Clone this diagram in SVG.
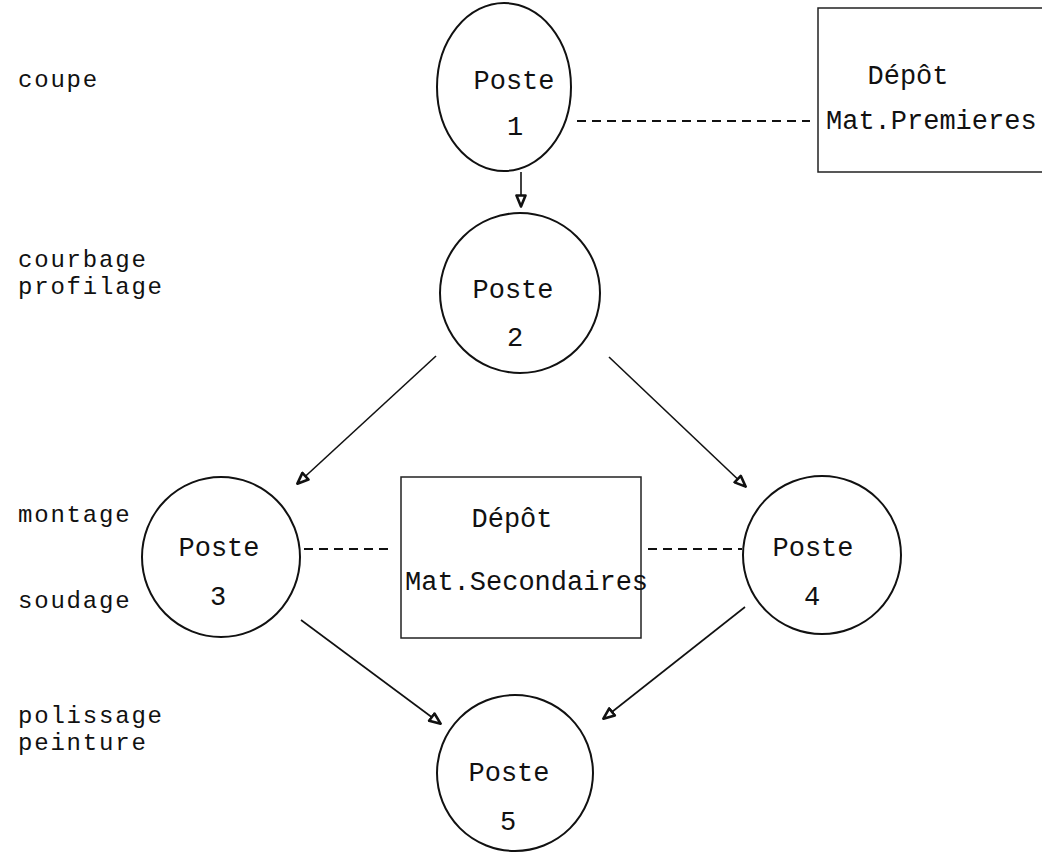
<svg xmlns="http://www.w3.org/2000/svg" width="1042" height="852" viewBox="0 0 1042 852">
<style>
text{font-family:"Liberation Mono","Courier New",monospace;font-size:27px;fill:#111}
.l{font-size:24px;letter-spacing:1.8px}
.n{fill:none;stroke:#111;stroke-width:2}
.b{fill:none;stroke:#222;stroke-width:1.5}
.c{fill:none;stroke:#111;stroke-width:1.6}
.d{fill:none;stroke:#111;stroke-width:1.8;stroke-dasharray:9 6}
.m{text-anchor:middle}
</style>
<defs>
<marker id="ah" viewBox="0 0 14 12" refX="13" refY="6" markerWidth="14" markerHeight="12" markerUnits="userSpaceOnUse" orient="auto">
<path d="M1.5,1.5 L12.5,6 L1.5,10.5 Z" fill="#fff" stroke="#111" stroke-width="2.6" stroke-linejoin="round"/>
</marker>
</defs>
<rect width="1042" height="852" fill="#fff"/>
<g id="labels">
<text class="l" x="18" y="87">coupe</text>
<text class="l" x="18" y="267">courbage</text>
<text class="l" x="18" y="294">profilage</text>
<text class="l" x="18" y="522">montage</text>
<text class="l" x="18" y="608">soudage</text>
<text class="l" x="18" y="723">polissage</text>
<text class="l" x="18" y="750">peinture</text>
</g>
<g id="connectors">
<line class="d" x1="577" y1="121" x2="810" y2="121"/>
<line class="d" x1="304" y1="549" x2="392" y2="549"/>
<line class="d" x1="648" y1="549" x2="742" y2="549"/>
<line class="c" x1="521" y1="172" x2="521" y2="207" marker-end="url(#ah)"/>
<line class="c" x1="436" y1="356" x2="297" y2="484" marker-end="url(#ah)"/>
<line class="c" x1="609" y1="357" x2="746" y2="487" marker-end="url(#ah)"/>
<line class="c" x1="301" y1="620" x2="441" y2="724" marker-end="url(#ah)"/>
<line class="c" x1="745" y1="607" x2="603" y2="719" marker-end="url(#ah)"/>
</g>
<g id="poste1">
<ellipse class="n" cx="504" cy="87" rx="67" ry="84"/>
<text class="m" x="514" y="89">Poste</text>
<text class="m" x="515" y="135">1</text>
</g>
<g id="depot1">
<path class="b" d="M1042,8 H818 V172 H1042"/>
<text class="m" x="908" y="84">Dépôt</text>
<text x="826" y="129">Mat.Premieres</text>
</g>
<g id="poste2">
<circle class="n" cx="520" cy="293" r="80"/>
<text class="m" x="513" y="298">Poste</text>
<text class="m" x="515" y="346">2</text>
</g>
<g id="poste3">
<ellipse class="n" cx="221" cy="557" rx="79" ry="80"/>
<text class="m" x="219" y="556">Poste</text>
<text class="m" x="218" y="605">3</text>
</g>
<g id="depot2">
<rect class="b" x="401" y="477" width="240" height="161"/>
<text class="m" x="512" y="527">Dépôt</text>
<text x="405" y="590">Mat.Secondaires</text>
</g>
<g id="poste4">
<circle class="n" cx="822" cy="555" r="79"/>
<text class="m" x="813" y="556">Poste</text>
<text class="m" x="812" y="605">4</text>
</g>
<g id="poste5">
<ellipse class="n" cx="515" cy="773" rx="78" ry="78"/>
<text class="m" x="509" y="781">Poste</text>
<text class="m" x="508" y="830">5</text>
</g>
</svg>
